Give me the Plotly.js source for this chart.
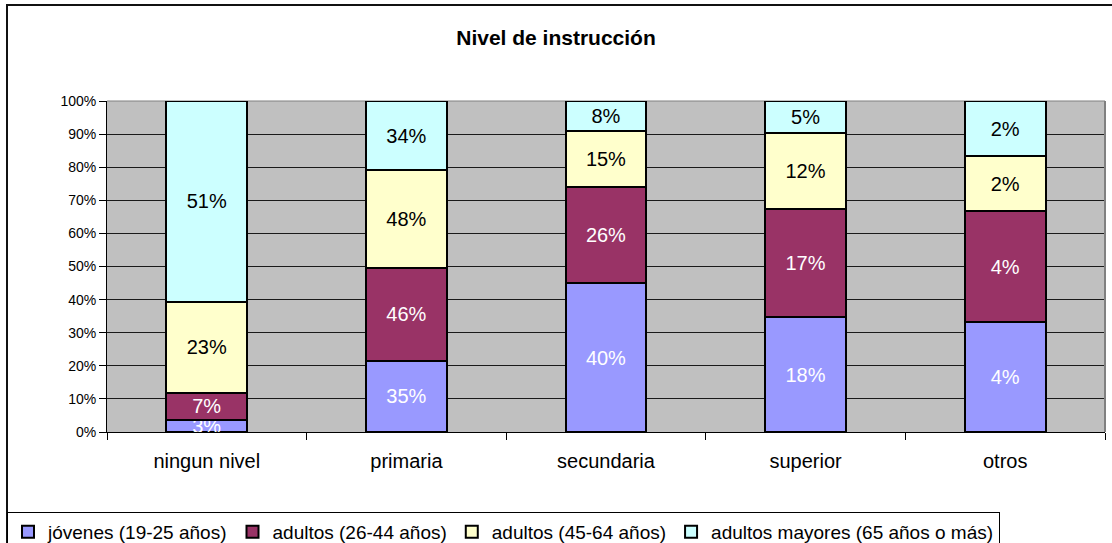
<!DOCTYPE html>
<html>
<head>
<meta charset="utf-8">
<script src="https://cdn.plot.ly/plotly-3.0.1.min.js"></script>
<style>
  html, body { margin: 0; padding: 0; background: #fff; }
  #chart { width: 1112px; height: 543px; }
</style>
</head>
<body>
<div id="chart"></div>
<script>
// Categories (nivel de instrucción)
const categories = ["ningun nivel", "primaria", "secundaria", "superior", "otros"];

// Series values (percent of each age group at each level, as labelled)
const jovenes       = [3, 35, 40, 18, 4];
const adultos2644   = [7, 46, 26, 17, 4];
const adultos4564   = [23, 48, 15, 12, 2];
const adultosMay    = [51, 34, 8, 5, 2];

const seriesNames = [
  "jóvenes (19-25 años)",
  "adultos (26-44 años)",
  "adultos (45-64 años)",
  "adultos mayores (65 años o más)"
];

// Y tick labels
const yTickVals = [0, 10, 20, 30, 40, 50, 60, 70, 80, 90, 100];
const yTickText = yTickVals.map(v => v + "%");

const FONT = "Arial, 'Liberation Sans', sans-serif";

const seriesData = [jovenes, adultos2644, adultos4564, adultosMay];
const fills = ["#9999FF", "#993366", "#FFFFCC", "#CCFFFF"];
const textColors = ["#ffffff", "#ffffff", "#000000", "#000000"];

const traces = seriesData.map((vals, i) => ({
  type: "bar",
  name: seriesNames[i],
  x: categories,
  y: vals,
  text: vals.map(v => v + "%"),
  textposition: "inside",
  insidetextanchor: "middle",
  textangle: 0,
  constraintext: "none",
  textfont: { family: FONT, size: 20, color: textColors[i] },
  hoverinfo: "none",
  marker: { color: fills[i], line: { color: "#000", width: 2 } }
}));

// plot area in pixels: left 107, right 1105, top 101, bottom 432
const W = 1112, H = 543;
const L = 107, R = 1105, T = 101, B = 432;
const pw = R - L, ph = B - T;
const px = x => (x - L) / pw;
const py = y => (B - y) / ph;

const layout = {
  width: W, height: H,
  margin: { l: L, r: W - R, t: T, b: H - B, pad: 0 },
  paper_bgcolor: "#ffffff",
  plot_bgcolor: "#C0C0C0",
  barmode: "stack",
  barnorm: "percent",
  bargap: 0.595,
  font: { family: FONT, color: "#000" },
  title: {
    text: "<b>Nivel de instrucción</b>",
    font: { family: FONT, size: 21, color: "#000" },
    x: 0.5, xanchor: "center",
    y: 1 - 38 / H, yanchor: "middle", yref: "container"
  },
  xaxis: {
    type: "category",
    showgrid: false,
    showline: true, linecolor: "#000", linewidth: 1,
    ticks: "outside", ticklen: 7, tickcolor: "#000", tickwidth: 1,
    tickson: "boundaries",
    ticklabelstandoff: 11,
    tickfont: { family: FONT, size: 20, color: "#000" },
    fixedrange: true
  },
  yaxis: {
    range: [0, 100],
    tickvals: yTickVals,
    ticktext: yTickText,
    showgrid: true, gridcolor: "#1a1a1a", gridwidth: 1,
    zeroline: false,
    showline: true, linecolor: "#000", linewidth: 1,
    ticks: "outside", ticklen: 7, tickcolor: "#000", tickwidth: 1,
    tickfont: { family: FONT, size: 14, color: "#000" },
    fixedrange: true
  },
  showlegend: true,
  legend: {
    orientation: "h",
    traceorder: "normal",
    xref: "container", yref: "container",
    x: 7 / W, xanchor: "left",
    y: 1 - 512 / H, yanchor: "top",
    bgcolor: "#ffffff",
    bordercolor: "#000", borderwidth: 1,
    font: { family: FONT, size: 19, color: "#000" },
    itemwidth: 30,
    tracegroupgap: 0
  },
  shapes: [
    // plot area border (gray) on top and right
    { type: "line", xref: "paper", yref: "paper", x0: 0, x1: 1, y0: 1, y1: 1,
      line: { color: "#808080", width: 1 }, layer: "below" },
    { type: "line", xref: "paper", yref: "paper", x0: 1, x1: 1, y0: 0, y1: 1,
      line: { color: "#808080", width: 2 } },
    // chart area border
    { type: "rect", xref: "paper", yref: "paper",
      x0: px(7), x1: px(1125), y0: py(560), y1: py(5),
      line: { color: "#111", width: 2 }, fillcolor: "rgba(0,0,0,0)" }
  ]
};

Plotly.newPlot("chart", traces, layout, { staticPlot: true, displayModeBar: false });
</script>
</body>
</html>
